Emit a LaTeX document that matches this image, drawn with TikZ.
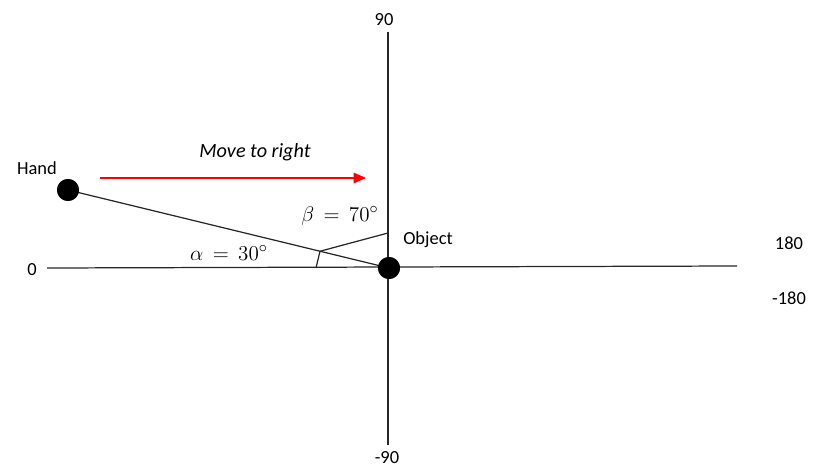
\documentclass[tikz,border=0pt]{standalone}
\usepackage{fontspec}
\setmainfont{Carlito}
\usetikzlibrary{positioning, arrows.meta, calc}

\begin{document}
\begin{tikzpicture}[
  x=0.02cm, y=-0.02cm,
  dot/.style={circle, fill=black, inner sep=0pt, minimum size=0.44cm},
  lbl/.style={font=\fontsize{10.5}{12}\selectfont, inner sep=1pt},
  mlbl/.style={font=\fontsize{13}{15}\selectfont, inner sep=1pt},
  axis/.style={black!85, line width=0.7pt},
  seg/.style={black!85, line width=0.7pt},
]
  \useasboundingbox (0,0) rectangle (813,466);

  % Axes
  \coordinate (xl) at (47,268);
  \coordinate (xr) at (737,266);
  \coordinate (yt) at (388,32);
  \coordinate (yb) at (388,445);
  \draw[axis] (xl) -- (xr);
  \draw[axis] (yt) -- (yb);

  % Axis labels
  \node[lbl] (l90) at (384,20) {90};
  \node[lbl] (lm90) at (387,458) {-90};
  \node[lbl] (l0) at (32,270) {0};
  \node[lbl] (l180) at (789,243) {180};
  \node[lbl] (lm180) at (789,298) {-180};

  % Hand and object
  \node[dot] (hand) at (68,190) {};
  \node[dot] (obj) at (389,268) {};
  \node[lbl] (handlbl) at (37,168) {Hand};
  \node[lbl] (objlbl) at (428,240) {Object};
  \draw[seg] (hand.center) -- (obj.center);
  \node[dot] at (hand) {};
  \node[dot] at (obj) {};

  % Angle marks
  \coordinate (ap) at ($(hand.center)!0.785!(obj.center)$);
  \coordinate (aa) at (316,268);
  \coordinate (bb) at (388,233);
  \draw[seg] (ap) -- (aa);
  \draw[seg] (ap) -- (bb);
  \node[mlbl] (alpha) at (229,253) {$\alpha\,=\,30^{\circ}$};
  \node[mlbl] (beta) at (340,216) {$\beta\,=\,70^{\circ}$};

  % Move arrow
  \coordinate (ms) at (100,178);
  \coordinate (me) at (366,178);
  \draw[red, line width=0.6pt, -{Triangle[length=7pt, width=6pt]}] (ms) -- (me);
  \node[font=\fontsize{11.5}{13}\selectfont\itshape] (move) at (255,152) {Move to right};
\end{tikzpicture}
\end{document}
